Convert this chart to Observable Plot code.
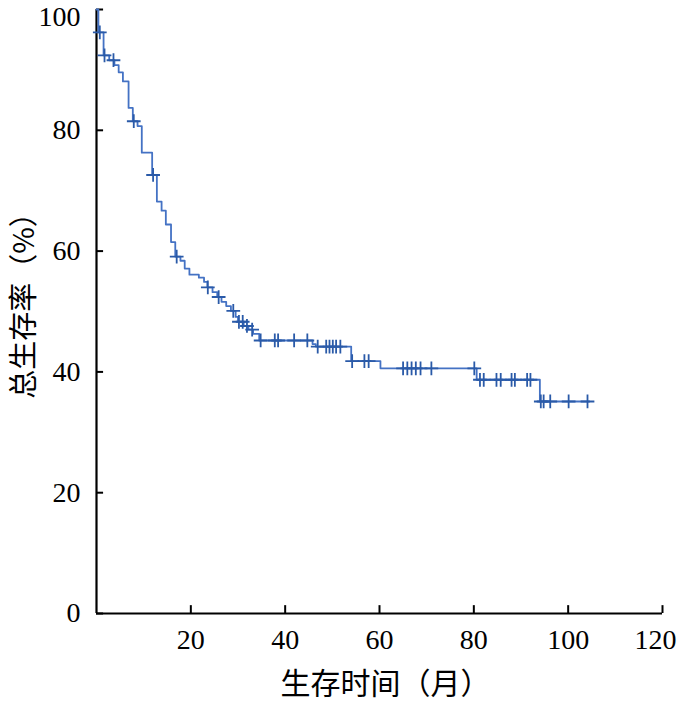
<!DOCTYPE html>
<html>
<head>
<meta charset="utf-8">
<script src="https://cdn.jsdelivr.net/npm/d3@7"></script>
<script src="https://cdn.jsdelivr.net/npm/@observablehq/plot@0.6"></script>
<style>
  html, body { margin: 0; padding: 0; background: #fff; }
  #chart svg { display: block; }
</style>
</head>
<body>
<div id="chart"></div>
<script>
// Kaplan–Meier overall survival
const eventTimes = [0.4,1.5,2.7,3.8,4.7,5.6,6.8,7.7,8.7,9.6,11.8,12.8,13.8,14.7,15.8,16.7,17.8,18.7,19.7,21.7,22.8,23.5,24.6,25.6,26.5,27.5,28.5,29.5,30.0,31.2,32.2,33.2,34.5,45.8,46.5,54.0,60.2,80.6,94.0];
const survival   = [96.2,92.4,91.6,90.8,89.6,88.1,83.7,81.5,80.7,76.3,72.6,68.2,66.7,64.4,61.5,59.1,58.4,57.1,56.1,55.6,54.9,54.0,53.2,52.4,51.6,50.9,50.1,49.1,48.3,47.6,47.0,46.3,45.2,44.6,44.2,41.8,40.6,38.7,35.1];
const censorTimes = [0.7,1.7,3.6,7.9,12.0,17.0,23.6,25.9,29.0,30.2,31.0,31.9,33.0,34.8,37.8,38.5,41.9,44.7,46.9,48.7,49.4,50.1,50.8,51.7,54.2,56.8,57.7,65.0,65.9,66.8,67.7,68.7,71.0,80.1,81.3,82.1,84.8,85.7,88.0,88.7,91.3,92.0,94.2,94.8,96.2,100.1,104.1];
const startTime = 0, startSurvival = 100, lastFollowUp = 104.5;
const xTicks = [20, 40, 60, 80, 100, 120];
const yTicks = [0, 20, 40, 60, 80, 100];
const xTitle = "生存时间（月）";
const yTitle = "总生存率（%）";

// build step curve
const curve = [{t: startTime, s: startSurvival}];
eventTimes.forEach((t, i) => curve.push({t, s: survival[i]}));
curve.push({t: lastFollowUp, s: survival[survival.length - 1]});

function survAt(t) {
  let s = startSurvival;
  for (let i = 0; i < eventTimes.length; i++) if (eventTimes[i] <= t) s = survival[i];
  return s;
}
const censors = censorTimes.map(t => ({t, s: survAt(t)}));

const numFont = "'Liberation Serif', 'Times New Roman', serif";
const cjkFont = "'Noto Sans CJK SC', sans-serif";
const xLast = xTicks[xTicks.length - 1];
const yLast = yTicks[yTicks.length - 1];

const chart = Plot.plot({
  width: 679,
  height: 708,
  marginLeft: 96,
  marginRight: 17,
  marginTop: 9,
  marginBottom: 95,
  style: {background: "#fff", color: "#000"},
  x: {domain: [0, 120]},
  y: {domain: [0, 100]},
  marks: [
    // axis lines
    Plot.ruleY([0], {stroke: "#000", strokeWidth: 2.2}),
    Plot.ruleX([0], {stroke: "#000", strokeWidth: 2.2}),
    // inward ticks
    Plot.ruleX(xTicks, {y1: 0, y2: 1.3, stroke: "#000", strokeWidth: 2}),
    Plot.ruleY(yTicks, {x1: 0, x2: 1.5, stroke: "#000", strokeWidth: 2}),
    // tick labels
    Plot.axisX(xTicks.slice(0, -1), {tickSize: 0, tickPadding: 16, fontSize: 28, fontFamily: numFont, fill: "#000", label: null}),
    Plot.axisX([xLast], {tickSize: 0, tickPadding: 16, dx: -7, fontSize: 28, fontFamily: numFont, fill: "#000", label: null}),
    Plot.axisY(yTicks.slice(0, -1), {tickSize: 0, tickPadding: 16, fontSize: 28, fontFamily: numFont, fill: "#000", label: null}),
    Plot.axisY([yLast], {tickSize: 0, tickPadding: 16, dy: 8, fontSize: 28, fontFamily: numFont, fill: "#000", label: null}),
    // axis titles
    Plot.text([xTitle], {frameAnchor: "bottom", dy: 80, dx: 6, fontSize: 30, fontFamily: cjkFont, fill: "#000"}),
    Plot.text([yTitle], {frameAnchor: "left", textAnchor: "middle", dx: -72, dy: -13, rotate: -90, fontSize: 29, fontFamily: cjkFont, fill: "#000"}),
    // survival curve
    Plot.line(curve, {x: "t", y: "s", curve: "step-after", stroke: "#4472c4", strokeWidth: 1.8}),
    // censor marks
    Plot.dot(censors, {x: "t", y: "s", symbol: "plus", r: 4.5, stroke: "#2a5aa8", strokeWidth: 1.8})
  ]
});
document.getElementById("chart").appendChild(chart);
</script>
</body>
</html>
